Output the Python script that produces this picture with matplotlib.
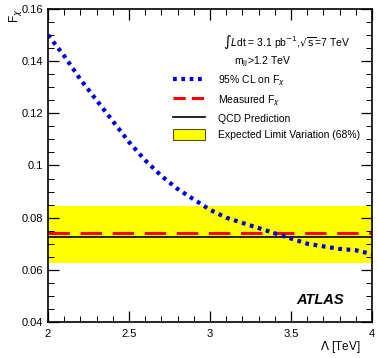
import matplotlib
matplotlib.use("Agg")
import matplotlib.pyplot as plt
from matplotlib.patches import Patch
from matplotlib.lines import Line2D
from matplotlib.ticker import MultipleLocator

plt.rcParams['font.family'] = ['Liberation Sans', 'DejaVu Sans']

# data
lam = [2.0, 2.1, 2.2, 2.3, 2.4, 2.5, 2.6, 2.7, 2.8, 2.9, 3.0,
       3.1, 3.2, 3.3, 3.4, 3.5, 3.6, 3.7, 3.8, 3.9, 4.0]
limit95 = [0.150, 0.142, 0.133, 0.125, 0.117, 0.109, 0.102, 0.096, 0.091, 0.087, 0.083,
           0.080, 0.078, 0.076, 0.074, 0.072, 0.070, 0.069, 0.068, 0.0675, 0.066]
measured = 0.0741
qcd = 0.0726
band_lo, band_hi = 0.0626, 0.0845

fig = plt.figure(figsize=(3.78, 3.58), dpi=100)
ax = fig.add_axes([0.127, 0.1006, 0.857, 0.8744])

ax.axhspan(band_lo, band_hi, color='#ffff00', lw=0)
ax.axhline(qcd, color='black', lw=1.2)
ax.axhline(measured, color='#ff0000', lw=2.2, dashes=(7, 3.5))
ax.plot(lam, limit95, color='#0000dd', lw=3, dashes=(0.9, 1.1))

ax.set_xlim(2, 4)
ax.set_ylim(0.04, 0.16)
ax.xaxis.set_minor_locator(MultipleLocator(0.1))
ax.yaxis.set_minor_locator(MultipleLocator(0.005))
ax.set_yticks([0.04, 0.06, 0.08, 0.1, 0.12, 0.14, 0.16])
ax.set_yticklabels(['0.04', '0.06', '0.08', '0.1', '0.12', '0.14', '0.16'])
ax.set_xticks([2, 2.5, 3, 3.5, 4])
ax.set_xticklabels(['2', '2.5', '3', '3.5', '4'])
ax.tick_params(which='both', direction='in', top=True, right=True, labelsize=8)
ax.tick_params(which='major', length=8, width=0.9)
ax.tick_params(which='minor', length=4, width=0.7)
ax.tick_params(axis='x', pad=5)
for s in ax.spines.values():
    s.set_linewidth(1.2)

fig.text(0.955, 0.008, r'$\Lambda$ [TeV]', ha='right', va='bottom', fontsize=8.5)
fig.text(0.018, 0.975, r'F$_{\chi}$', ha='left', va='top', rotation=90, fontsize=8.5)

ax.text(0.54, 0.895, r'$\int$$L$dt = 3.1 pb$^{-1}$,$\sqrt{\mathrm{s}}$=7 TeV', transform=ax.transAxes,
        fontsize=7.5, va='center')
ax.text(0.575, 0.83, r'm$_{\mathrm{jj}}$>1.2 TeV', transform=ax.transAxes, fontsize=7.5, va='center')

handles = [Line2D([], [], color='#0000dd', lw=3, dashes=(0.9, 1.1)),
           Line2D([], [], color='#ff0000', lw=2.2, dashes=(4, 2)),
           Line2D([], [], color='black', lw=1.2),
           Patch(facecolor='#ffff00', edgecolor='#555500', lw=0.8)]
labels = [r'95% CL on F$_{\chi}$', r'Measured F$_{\chi}$', 'QCD Prediction',
          'Expected Limit Variation (68%)']
ax.legend(handles, labels, loc='upper left', bbox_to_anchor=(0.37, 0.81), frameon=False,
          fontsize=7.5, handlelength=3.1, handleheight=1.2, labelspacing=0.5, handletextpad=1.2,
          borderpad=0)

ax.text(0.915, 0.07, 'ATLAS', transform=ax.transAxes, fontsize=10.5, fontweight='bold',
        style='italic', ha='right', va='center')

fig.savefig('out.png', dpi=100)
